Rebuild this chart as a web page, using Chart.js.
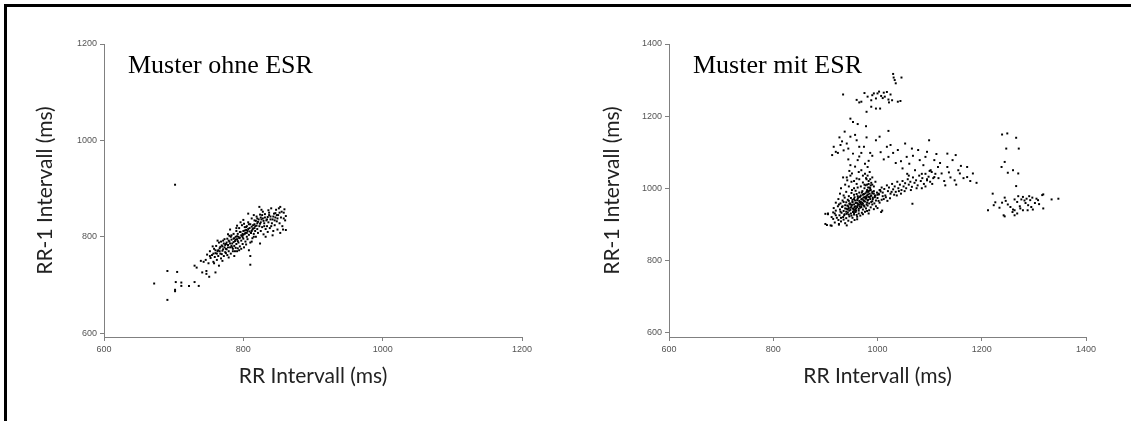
<!DOCTYPE html>
<html>
<head>
<meta charset="utf-8">
<script src="https://cdn.jsdelivr.net/npm/chart.js@4.4.1/dist/chart.umd.min.js"></script>
<style>
  html, body { margin: 0; padding: 0; background: #fff; }
  body { width: 1131px; height: 421px; position: relative; overflow: hidden; }
  .frame { position: absolute; left: 4px; top: 4px; width: 1140px; height: 440px;
           border-top: 3px solid #000; border-left: 3px solid #000; }
  canvas { position: absolute; top: 0; }
  #chartOhne { left: 0; }
  #chartMit { left: 565px; }
</style>
</head>
<body>
<div class="frame"></div>
<canvas id="chartOhne" width="565" height="421"></canvas>
<canvas id="chartMit" width="566" height="421"></canvas>
<script>
// RR / RR-1 pairs (ms), pattern without ESR
const pointsOhneESR = [
  [702,908],[672,703],[691,729],[691,669],[702,690],[705,727],[703,706],[711,705],[711,698],[702,687],
  [722,698],[730,706],[736,698],[730,740],[733,736],[741,726],[747,729],[747,723],[751,717],[760,726],
  [739,750],[743,748],[758,745],[765,740],[810,742],[810,760],
  [746,752],[748,763],[750,745],[752,770],[753,756],[755,762],[757,748],[758,775],[759,758],[760,766],
  [761,781],[762,752],[763,770],[764,760],[765,788],[766,776],[767,765],[768,755],[769,782],[770,771],
  [771,792],[772,760],[773,778],[774,768],[775,785],[762,765],[766,770],[768,790],[770,750],[772,786],
  [776,774],[777,796],[777,762],[778,783],[779,770],[780,790],[780,802],[781,778],[782,765],[783,794],
  [784,786],[785,775],[786,806],[786,796],[787,781],[788,770],[788,791],[789,800],[790,785],[790,812],
  [776,788],[779,757],[782,800],[784,778],[785,770],[787,760],[789,777],[778,805],[781,815],[775,766],
  [791,795],[792,776],[792,806],[793,788],[794,818],[795,798],[795,780],[796,810],[797,792],[798,802],
  [798,824],[799,785],[800,812],[800,796],[801,778],[802,806],[802,820],[803,790],[804,814],[805,800],
  [791,823],[793,800],[796,830],[797,775],[799,806],[801,827],[803,808],[804,784],[791,770],[805,822],
  [806,812],[806,795],[807,830],[808,804],[809,818],[810,788],[810,826],[811,808],[812,838],[813,815],
  [813,797],[814,824],[815,806],[816,834],[817,812],[817,822],[818,800],[819,842],[820,816],[820,828],
  [808,772],[812,790],[815,845],[818,833],[807,848],
  [821,808],[822,836],[823,822],[824,846],[825,812],[825,830],[826,856],[827,820],[828,838],[829,805],
  [830,828],[831,847],[832,816],[833,834],[834,822],[835,841],[823,862],[828,852],[832,800],[824,786],
  [835,810],
  [836,830],[837,850],[838,818],[839,842],[840,859],[841,828],[842,836],[843,812],[844,848],[845,824],
  [846,840],[847,856],[848,832],[849,815],[850,845],[851,859],[842,803],[848,845],[840,822],
  [852,828],[853,808],[854,840],[855,852],[856,822],[857,815],[858,838],[858,850],[859,857],[860,834],
  [861,814],[861,843],[853,862],
  [764,772],[767,779],[771,774],[774,783],[778,778],[781,786],[783,781],[786,789],[789,794],[792,791],
  [794,797],[797,803],[799,799],[802,813],[805,808],[807,816],[809,811],[812,821],[814,817],[816,826],
  [819,823],[821,831],[824,827],[826,836],[829,833],[831,840],[834,836],[837,845],[839,836],[843,842],
  [846,849],[849,838],[852,850],[770,780],[775,775],[779,792],[783,803],[787,797],[791,801],[795,810],
  [800,804],[804,820],[808,826],[812,812],[816,818],[820,838],[825,840],[830,822],[757,765],[760,772],
  [752,760],[756,780],[763,792],[769,764],[773,795],[790,818],[800,835],[794,772],[815,800],[827,845],
  [836,855],[845,834]
];

// RR / RR-1 pairs (ms), pattern with ESR
const pointsMitESR = [
  // upper group
  [1030,1317],[1031,1307],[1046,1307],[1035,1291],[1033,1300],[934,1260],[960,1245],[969,1240],[981,1254],[990,1258],
  [1000,1263],[1012,1265],[1018,1267],[1025,1260],[988,1244],[997,1249],[1007,1256],[1014,1254],[1021,1246],[1028,1244],
  [1039,1240],[1044,1242],[979,1212],[988,1226],[997,1221],[1005,1221],[965,1238],[975,1264],[1003,1268],[1010,1250],
  [993,1263],[1022,1238],
  // upper left arm
  [948,1193],[953,1184],[962,1178],[978,1172],[937,1157],[927,1141],[916,1115],[920,1101],[941,1124],[948,1143],
  [960,1133],[965,1115],[974,1115],[979,1141],[997,1133],[1004,1143],[1021,1159],[932,1130],[929,1120],[944,1110],
  [957,1148],[935,1105],[924,1098],[913,1092],
  [953,1096],[969,1098],[986,1098],[962,1078],[976,1068],[948,1064],[951,1041],[960,1027],[969,1050],[981,1059],
  [944,1080],[957,1060],[965,1088],[972,1035],[983,1076],[990,1090],[946,1048],[941,1030],[955,1020],[964,1045],
  // spread towards the right
  [1018,1115],[1021,1087],[1039,1106],[1053,1124],[1056,1087],[1061,1068],[1078,1106],[1092,1087],[1099,1133],[1095,1101],
  [1081,1078],[1109,1078],[1116,1059],[1134,1096],[1134,1059],[1144,1078],[1155,1050],[1158,1041],[1172,1059],[1183,1041],
  [1190,1015],[1172,1031],[1148,1022],[1130,1008],[1123,1041],[1109,1031],[1095,1022],[1030,1098],[1045,1075],[1068,1090],
  [1088,1064],[1102,1050],[1113,1095],[1120,1070],[1140,1030],[1151,1010],[1160,1062],[1178,1020],[1165,1028],[1128,1020],
  [1105,1012],[1085,1040],[1072,1050],[1060,1035],[1048,1055],[1035,1070],[1012,1080],[1025,1120],[1066,1110],[1006,1100],
  [1150,1092],[1117,1028],[1137,1044],
  // rising band
  [1002,985],[1005,995],[1008,1002],[1010,988],[1013,998],[1015,980],[1018,1008],[1020,992],[1022,1002],[1025,985],
  [1028,1012],[1030,997],[1033,1005],[1035,990],[1038,1018],[1040,1000],[1043,1010],[1046,995],[1048,1020],[1050,1005],
  [1053,1014],[1055,1000],[1058,1025],[1060,1010],[1063,1018],[1066,1004],[1068,1030],[1071,1015],[1074,1022],[1077,1008],
  [1080,1035],[1083,1020],[1086,1028],[1089,1012],[1092,1040],[1095,1025],[1098,1032],[1101,1018],[1104,1045],[1107,1028],
  [1067,957],[1007,934],[1009,938],[1012,970],[1016,975],[1019,965],[1024,972],[1027,990],[1032,982],[1037,980],
  [1041,992],[1045,985],[1052,992],[1057,1040],[1064,995],[1075,1000],[1085,1000],[1092,1005],[1100,1048],[1111,1040],
  // dense core
  [900,901],[910,897],[926,901],[900,929],[905,930],[915,915],[920,925],
  [903,898],[912,896],[926,899],[918,905],[930,908],[938,903],[944,910],[950,906],[935,913],[956,912],[925,912],[961,914],[941,897],
  [905,928],[912,920],[918,930],[922,918],[927,925],[931,932],[934,920],[937,928],[940,917],[943,933],[946,922],[949,930],
  [952,918],[955,927],[958,934],[961,921],[964,930],[967,924],[970,932],[915,933],[930,918],[945,927],[953,934],[960,926],
  [972,928],[976,935],[983,930],
  [916,945],[920,938],[924,950],[928,941],[932,948],[935,937],[938,953],[941,943],[944,950],[946,938],[949,946],[951,954],
  [954,940],[956,948],[959,944],[962,952],[964,938],[967,946],[970,954],[972,941],[975,949],[978,944],[981,952],[984,939],
  [987,947],[990,955],[993,942],[997,950],[940,935],[957,937],[966,955],[980,937],[1000,945],[926,955],[948,955],
  [920,960],[925,970],[929,958],[933,966],[937,974],[940,961],[943,968],[946,957],[949,973],[952,963],[955,970],[958,959],
  [961,967],[963,974],[966,961],[969,969],[972,957],[974,965],[977,972],[980,960],[982,968],[985,975],[988,962],[991,970],
  [994,958],[997,966],[1000,973],[1004,960],[1008,968],[935,962],[956,975],[968,958],[979,975],[990,964],[945,965],[962,958],
  [973,974],[1002,965],
  [928,985],[935,980],[940,990],[945,978],[950,987],[955,982],[958,993],[962,978],[965,988],[968,980],[971,992],[974,984],
  [977,977],[979,990],[982,983],[985,994],[987,978],[990,986],[993,992],[996,980],[999,988],[1003,983],[1006,991],[1010,978],
  [951,995],[966,976],[983,992],[995,975],[1004,995],
  [930,1000],[938,1010],[945,1005],[950,1018],[955,1000],[960,1012],[965,1025],[968,1005],[972,1016],[975,1000],[978,1028],
  [980,1010],[983,1020],[985,1002],[988,1015],[990,1030],[993,1005],[996,1018],[962,1002],[977,1008],[986,1025],[942,1022],
  [934,1030],[948,1035],
  [976,1040],[981,1035],[985,1045],[979,1025],[983,1012],[987,1008],
  [945,945],[950,950],[955,955],[960,960],[965,965],[970,970],[975,975],[980,980],[985,985],[990,990],
  [948,940],[953,944],[958,950],[963,955],[968,962],[973,967],[978,971],[983,976],[988,980],[993,985],
  [942,952],[947,958],[952,961],[957,966],[962,971],[967,977],[972,982],[977,986],[982,990],[987,995],
  [938,944],[943,941],[957,942],[961,948],[966,950],[971,960],[976,963],[981,966],[986,970],[991,974],
  [995,979],[1000,982],[936,925],[941,929],[950,924],[955,931],[959,938],[964,943],[969,948],[974,952],
  [979,955],[984,958],[933,950],[929,935],[952,968],[960,984],[970,988],[980,995],[975,1010],[982,1002],
  [986,1000],[990,1010],
  // right column and cluster
  [1239,1149],[1249,1152],[1266,1140],[1247,1110],[1271,1110],[1244,1073],[1238,1059],[1250,1043],[1260,1050],[1270,1041],
  [1266,1006],[1221,985],[1212,939],[1226,961],[1239,960],
  [1223,953],[1234,946],[1244,974],[1246,965],[1255,948],[1263,969],[1260,941],[1268,962],[1270,978],[1273,950],
  [1276,969],[1279,976],[1284,959],[1286,971],[1289,953],[1291,978],[1293,967],[1295,948],[1297,974],[1302,959],
  [1305,971],[1310,956],[1308,967],[1318,944],[1316,981],[1334,969],[1347,971],[1244,922],[1259,934],[1268,930],
  [1274,944],[1279,939],[1298,941],[1288,939],[1263,939],[1263,925],[1242,925],[1318,983],[1250,955],[1282,966]
];

const ticksOhneX = [600, 800, 1000, 1200];
const ticksOhneY = [600, 800, 1000, 1200];
const ticksMitX = [600, 800, 1000, 1200, 1400];
const ticksMitY = [600, 800, 1000, 1200, 1400];

const axisGrey = '#808080';
const tickFont = { family: '"Liberation Sans", Arial, sans-serif', size: 9 };
const titleFont = { family: 'Lato, "Open Sans", sans-serif', size: 21 };

// panel caption inside the plot area, top left
const panelCaption = {
  id: 'panelCaption',
  afterDraw(chart, args, opts) {
    const { ctx, chartArea } = chart;
    ctx.save();
    ctx.font = '26px "Liberation Serif", "Times New Roman", serif';
    ctx.fillStyle = '#000';
    ctx.textBaseline = 'alphabetic';
    ctx.fillText(opts.text, chartArea.left + opts.dx, opts.y);
    ctx.restore();
  }
};

function axis(tickValues, min, extra) {
  return Object.assign({
    type: 'linear',
    min: min,
    max: tickValues[tickValues.length - 1],
    afterBuildTicks: scale => { scale.ticks = tickValues.map(v => ({ value: v })); },
    grid: { drawOnChartArea: false, drawTicks: true, tickLength: 4, color: axisGrey, lineWidth: 1 },
    border: { display: true, color: axisGrey, width: 1 },
    ticks: { font: tickFont, color: '#555', padding: 3, maxRotation: 0, callback: v => String(v) }
  }, extra);
}

function makeChart(id, points, xTicks, yTicks, yMin, caption, rightPad, yTitleX) {
  return new Chart(document.getElementById(id), {
    type: 'scatter',
    data: {
      datasets: [{
        data: points.map(([x, y]) => ({ x, y })),
        backgroundColor: '#000',
        borderWidth: 0,
        pointStyle: 'rect',
        pointRadius: 1.4,
        pointHoverRadius: 1.4
      }]
    },
    options: {
      responsive: false,
      animation: false,
      events: [],
      layout: { padding: { left: 0, right: rightPad, top: 44, bottom: 0 } },
      plugins: {
        legend: { display: false },
        tooltip: { enabled: false },
        panelCaption: { text: caption, dx: 24, y: 73 }
      },
      scales: {
        x: axis(xTicks, xTicks[0], {
          afterFit: scale => { scale.height = 84; },
          title: { display: true, text: 'RR Intervall (ms)', font: titleFont, color: '#222',
                   padding: { top: 0, bottom: 32 } }
        }),
        y: axis(yTicks, yMin, {
          afterFit: scale => { scale.width = 104; },
          title: { display: true, text: 'RR-1 Intervall (ms)', font: titleFont, color: '#222',
                   padding: { top: yTitleX, bottom: 0 } }
        })
      }
    },
    plugins: [panelCaption]
  });
}

makeChart('chartOhne', pointsOhneESR, ticksOhneX, ticksOhneY, 592, 'Muster ohne ESR', 43, 33);
makeChart('chartMit', pointsMitESR, ticksMitX, ticksMitY, 587.5, 'Muster mit ESR', 45, 35);
</script>
</body>
</html>
